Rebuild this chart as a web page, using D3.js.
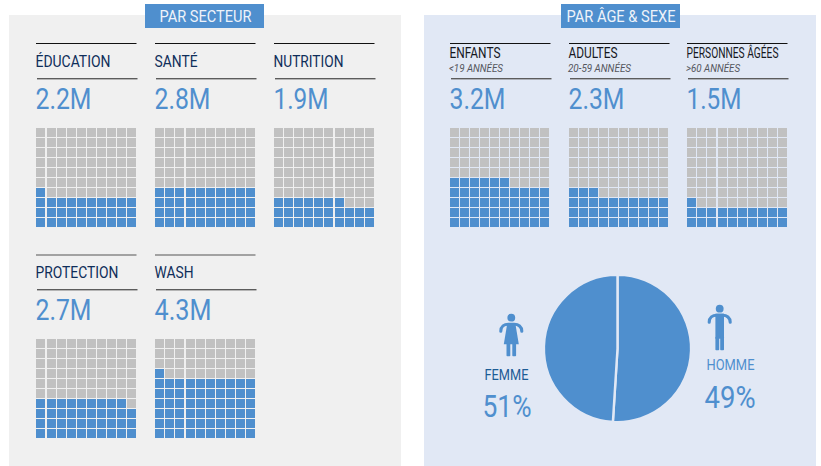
<!DOCTYPE html>
<html><head><meta charset="utf-8">
<script src="https://cdn.jsdelivr.net/npm/d3@7/dist/d3.min.js"></script>
<style>html,body{margin:0;padding:0;background:#fff}svg{display:block}text{font-family:Roboto,sans-serif}</style>
</head><body><svg id="c" width="821" height="466"></svg>
<script>
const sectorNames = ["ÉDUCATION","SANTÉ","NUTRITION","PROTECTION","WASH"];
const sectorValues = ["2.2M","2.8M","1.9M","2.7M","4.3M"];
const sectorCells = [31,40,27,39,61];
const ageNames = ["ENFANTS","ADULTES","PERSONNES ÂGÉES"];
const ageSubs = ["<19 ANNÉES","20-59 ANNÉES",">60 ANNÉES"];
const ageValues = ["3.2M","2.3M","1.5M"];
const ageCells = [46,33,21];
const pieShares = [51,49];
const sexNames = ["FEMME","HOMME"];
const sexLabels = ["51%","49%"];
const panelTitles = ["PAR SECTEUR","PAR ÂGE & SEXE"];

// layout-only tables
const sectorNameW=[75,43,70,83,39], sectorValW=[56,56,55,56,57], sectorSeam=[1,3,6,1,3];
const ageNameW=[51,49,92], ageSubW=[54,63,54], ageValW=[56,56,55], ageSeam=[-1,-1,3];
const BLUE="#4f8fce",GREY="#c1c1c1";

const svg=d3.select("#c");
function T(x,y,s,size,fill,w,o={}){
  return svg.append("text").attr("x",x).attr("y",y).attr("font-size",size).attr("fill",fill)
    .attr("textLength",w).attr("lengthAdjust","spacingAndGlyphs")
    .attr("font-style",o.italic?"italic":null).attr("font-weight",o.weight||400).text(s);
}
svg.append("rect").attr("x",9).attr("y",15).attr("width",392).attr("height",451).attr("fill","#f0f0f0");
svg.append("rect").attr("x",424).attr("y",15).attr("width",392).attr("height",451).attr("fill","#e1e8f5");
[[145,119,159.5,92],[561,119,566.5,109]].forEach((h,i)=>{
  svg.append("rect").attr("x",h[0]).attr("y",4).attr("width",h[1]).attr("height",24).attr("fill",BLUE);
  T(h[2],21.5,panelTitles[i],16.5,"#eef3fa",h[3]);
});

const idx=d3.range(100);
const gy=d3.scaleLinear().domain([0,10]).range([99,-1]);
function waffle(x0,y0,n,seam){
  const g=svg.append("g").attr("transform",`translate(${x0},${y0})`);
  g.selectAll("rect").data(idx).join("rect")
    .attr("x",d=>{const c=d%10;return c*10+(seam>=0&&c>=seam?1:0);})
    .attr("y",d=>gy(Math.floor(d/10)+1)+1)
    .attr("width",9).attr("height",9)
    .attr("fill",d=>d<n?BLUE:GREY);
}
function rules(x,y1,y2,c1){
  svg.append("rect").attr("x",x).attr("y",y1).attr("width",100.5).attr("height",1).attr("fill",c1);
  svg.append("rect").attr("x",x+1).attr("y",y2).attr("width",100.5).attr("height",1.4).attr("fill","#5c5c5c");
}
const sx=[36,155,274,36,155], rowOff=[0,0,0,211,211];
sectorNames.forEach((n,i)=>{
  const o=rowOff[i];
  rules(sx[i],43+o+(o?0.5:0),78+o,o?"#555":"#111");
  T(sx[i]-0.5,67+o,n,16.5,"#0f2e5a",sectorNameW[i]);
  T(sx[i]-0.5,108.5+o,sectorValues[i],29,BLUE,sectorValW[i]);
  waffle(sx[i],128+o,sectorCells[i],sectorSeam[i]);
});
const ax=[450,569,687];
ageNames.forEach((n,i)=>{
  rules(ax[i],43,78,"#111");
  T(ax[i]-0.5,58,n,15,"#16181f",ageNameW[i]);
  T(ax[i]-1,72,ageSubs[i],11,"#55575e",ageSubW[i],{italic:true});
  T(ax[i]-0.5,108.5,ageValues[i],29,BLUE,ageValW[i]);
  waffle(ax[i],128,ageCells[i],ageSeam[i]);
});

// pie: the larger slice sits on the right in the source
const pie=d3.pie().sort(null)(pieShares);
const arc=d3.arc().innerRadius(0).outerRadius(73.6);
svg.append("g").attr("transform","translate(617.5,348.5)")
  .selectAll("path").data(pie).join("path").attr("d",arc).attr("fill",BLUE)
  .attr("stroke","#e1e8f5").attr("stroke-width",2.4);

// icons
function person(x,y,female){
  const g=svg.append("g").attr("transform",`translate(${x},${y})`).attr("fill",BLUE);
  g.append("circle").attr("cx",0).attr("cy",0).attr("r",3.9);
  g.append("path").attr("fill","none").attr("stroke",BLUE).attr("stroke-width",3.1).attr("stroke-linecap","round")
    .attr("d","M-10.5,13.5C-10.5,9 -7,6.5 -3,6.5L3,6.5C7,6.5 10.5,9 10.5,13.5");
  if(female){
    g.append("path").attr("d","M-4,5.5L4,5.5L7.5,26.5L-7.5,26.5Z");
    g.append("rect").attr("x",-4.8).attr("y",26).attr("width",3.8).attr("height",12.5).attr("rx",0.8);
    g.append("rect").attr("x",1).attr("y",26).attr("width",3.8).attr("height",12.5).attr("rx",0.8);
  } else {
    g.append("rect").attr("x",-4.3).attr("y",5).attr("width",8.6).attr("height",25);
    g.append("rect").attr("x",-4.3).attr("y",28).attr("width",3.8).attr("height",13.5).attr("rx",0.8);
    g.append("rect").attr("x",0.5).attr("y",28).attr("width",3.8).attr("height",13.5).attr("rx",0.8);
  }
}
person(511.3,317.7,true);
person(719.7,308.7,false);
T(484.5,380,sexNames[0],15,"#1d5c96",44);
T(482.5,416.5,sexLabels[0],32,BLUE,49);
T(706.5,370,sexNames[1],15,BLUE,48);
T(704.5,407.5,sexLabels[1],32,BLUE,51);
</script></body></html>
